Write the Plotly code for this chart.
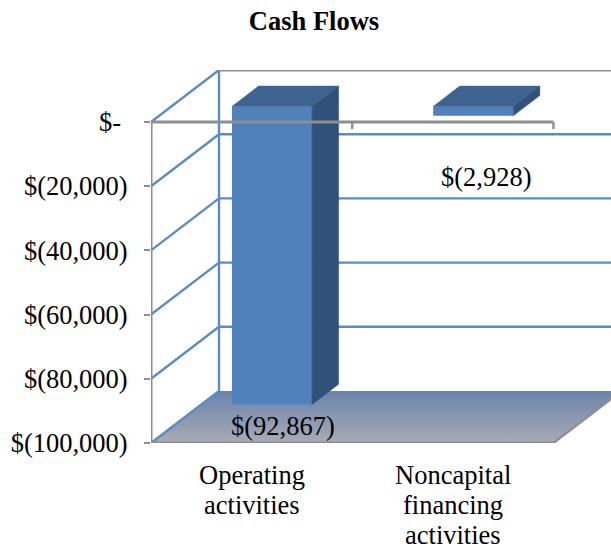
import plotly.graph_objects as go

categories = ["Operating activities", "Noncapital financing activities"]
category_lines = [["Operating", "activities"], ["Noncapital", "financing", "activities"]]
values = [-92867, -2928]
value_labels = ["$(92,867)", "$(2,928)"]
y_ticks = [0, -20000, -40000, -60000, -80000, -100000]
y_tick_labels = ["$-&nbsp;", "$(20,000)", "$(40,000)", "$(60,000)", "$(80,000)", "$(100,000)"]
title = "Cash Flows"

FONT = "Liberation Serif"
GREY = "#8e8e8e"
BLUE = "#5b8bc4"
W, H = 611, 547
L, R, T, B = 151, 0, 70, 104
X_RANGE = [-0.5, 1.786]
WALL_X, WALL_Y = 0.338, 16200      # oblique depth of the chart box
Y_RANGE = [-100000, WALL_Y]
F, K = 0.30, 0.69                  # bar front/back positions in depth
BAR_W = 0.398
x0, x1 = -0.5, 1.5

fig = go.Figure()


def line(xs, ys, color, width=2.4, axes=("x", "y")):
    fig.add_trace(go.Scatter(x=xs, y=ys, mode="lines", xaxis=axes[0], yaxis=axes[1],
                             line=dict(color=color, width=width), hoverinfo="skip",
                             showlegend=False, cliponaxis=False))


def poly(xs, ys, color, axes=("x2", "y2")):
    fig.add_trace(go.Scatter(x=xs + xs[:1], y=ys + ys[:1], mode="lines", fill="toself",
                             xaxis=axes[0], yaxis=axes[1], fillcolor=color,
                             line=dict(color=color, width=0.5), hoverinfo="skip",
                             showlegend=False, cliponaxis=False))


bottom = y_ticks[-1]
# floor
fig.add_trace(go.Scatter(
    x=[x0, x1, x1 + WALL_X, x0 + WALL_X, x0], y=[bottom, bottom, bottom + WALL_Y, bottom + WALL_Y, bottom],
    mode="lines", fill="toself", line=dict(color="rgba(0,0,0,0)", width=0),
    fillgradient=dict(type="vertical", colorscale=[[0, "#a9abb6"], [1, "#6a83ab"]]),
    hoverinfo="skip", showlegend=False, cliponaxis=False))
# gridlines on side and back walls
for t in y_ticks[:-1]:
    line([x0, x0 + WALL_X], [t, t + WALL_Y], BLUE)
    if t != 0:
        line([x0 + WALL_X, x1 + WALL_X], [t + WALL_Y, t + WALL_Y], BLUE)
line([x0, x0 + WALL_X], [bottom, bottom + WALL_Y], BLUE)
line([x0 + WALL_X, x0 + WALL_X], [bottom + WALL_Y, WALL_Y], BLUE)
line([x0 + WALL_X, x1 + WALL_X], [WALL_Y, WALL_Y], GREY, 3)
line([x1, x1 + WALL_X], [bottom, bottom + WALL_Y], GREY)
line([x0, x0], [0, bottom], GREY, 3)
line([x0, x1], [bottom, bottom], GREY, 3)

# bars: front faces
fig.add_trace(go.Bar(
    x=[i + F * WALL_X for i in range(len(values))],
    y=values, base=[F * WALL_Y] * len(values), width=BAR_W,
    marker=dict(color="#4f81bd", line=dict(width=0)),
    xaxis="x2", yaxis="y2", hoverinfo="skip", showlegend=False))
# bars: top and side faces
for i, v in enumerate(values):
    a = i + F * WALL_X - BAR_W / 2
    b = a + BAR_W
    d = (K - F) * WALL_X
    yf, yb = F * WALL_Y, K * WALL_Y
    poly([a, b, b + d, a + d], [yf, yf, yb, yb], "#3d6390")
    poly([b, b + d, b + d, b], [yf, yb, yb + v, yf + v], "#30527a")

# zero axis drawn over the bars, with its tick marks
line([x0 - 6 / 201, x1], [0, 0], GREY, 3, axes=("x2", "y2"))
tx, ty = [], []
for k in [x0, 0.5, x1]:
    tx += [k, k, None]
    ty += [0, -2200, None]
line(tx, ty, GREY, axes=("x2", "y2"))

ann = []
for i, lines in enumerate(category_lines):
    for n, s in enumerate(lines):
        ann.append(dict(x=i, y=0, xref="x", yref="paper", text=s, showarrow=False,
                        xanchor="center", yanchor="middle", yshift=-32 - 30 * n,
                        font=dict(family=FONT, size=26.5, color="black")))
ann.append(dict(x=0 + 31 / 201, y=-94700, xref="x2", yref="y2", text=value_labels[0],
                showarrow=False, xanchor="center", yanchor="middle",
                font=dict(family=FONT, size=26.5, color="black")))
ann.append(dict(x=1 + 34 / 201, y=-17100, xref="x2", yref="y2", text=value_labels[1],
                showarrow=False, xanchor="center", yanchor="middle",
                font=dict(family=FONT, size=26.5, color="black")))

fig.update_layout(
    width=W, height=H, autosize=False,
    margin=dict(l=L, r=R, t=T, b=B, pad=0),
    paper_bgcolor="white", plot_bgcolor="white", showlegend=False,
    font=dict(family=FONT, color="black"),
    title=dict(text="<b>" + title + "</b>", x=314 / W, xanchor="center", xref="container",
               y=1 - 21 / H, yanchor="middle", yref="container",
               font=dict(family=FONT, size=26.5, color="black")),
    xaxis=dict(range=X_RANGE, showgrid=False, zeroline=False, showline=False, showticklabels=False,
               ticks="", fixedrange=True),
    yaxis=dict(range=Y_RANGE, tickvals=y_ticks, ticktext=y_tick_labels, showgrid=False,
               zeroline=False, showline=False, ticks="outside", ticklen=6, tickwidth=2,
               tickcolor=GREY, ticklabelstandoff=11,
               tickfont=dict(family=FONT, size=26.5, color="black"), fixedrange=True),
    xaxis2=dict(range=X_RANGE, overlaying="x", visible=False, fixedrange=True),
    yaxis2=dict(range=Y_RANGE, overlaying="y", visible=False, fixedrange=True),
    annotations=ann,
)
fig.write_html("out.html", config=dict(displayModeBar=False),
               post_script="document.body.style.margin='0';document.documentElement.style.overflow='hidden';")
